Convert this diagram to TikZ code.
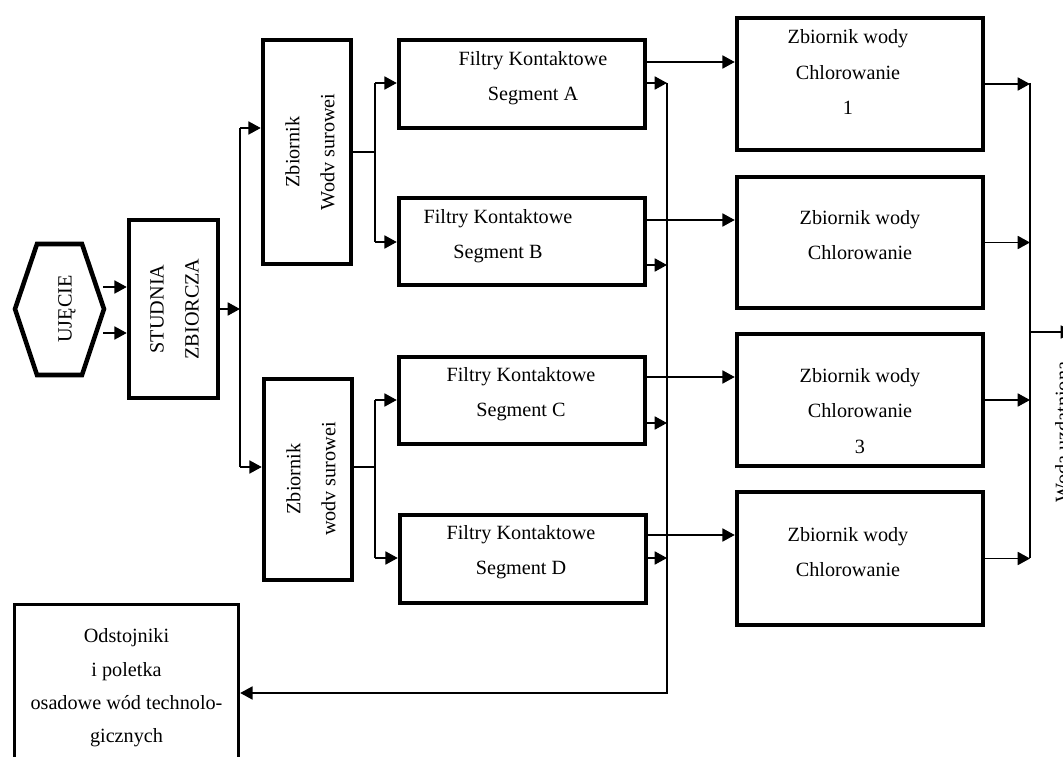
\documentclass[tikz,border=0pt]{standalone}
\usepackage{fontspec}
\setmainfont{Liberation Serif}
\usetikzlibrary{arrows.meta,calc}

\begin{document}
\begin{tikzpicture}[x=0.02cm,y=-0.02cm,
    box/.style={draw, line width=2.6pt, inner sep=0pt},
    txt/.style={font=\fontsize{11.5}{20}\selectfont, align=center, inner sep=0pt},
    lin/.style={line width=0.7pt},
    arr/.style={line width=0.7pt, -{Triangle[length=7pt,width=7.5pt]}}]
    \useasboundingbox (0,0) rectangle (1063,757);
    \clip (0,0) rectangle (1063,757);

    % Ujecie i studnia
    \draw[line width=2.6pt] (15,309) -- (37,244) -- (82,244) -- (104,309) -- (82,375) -- (37,375) -- cycle;
    \node[txt, rotate=90] (uj) at (67,309) {UJĘCIE};
    \node[box, minimum width=1.78cm, minimum height=3.56cm] (st) at (173.5,309) {};
    \node[txt, rotate=90] (stt) at (174.5,309) {STUDNIA\\ZBIORCZA};

    % Zbiorniki wody surowej
    \node[box, minimum width=1.76cm, minimum height=4.48cm] (zA) at (307,152) {};
    \node[txt, rotate=90] (zAt) at (310,152) {Zbiornik\\Wodv surowei};
    \node[box, minimum width=1.76cm, minimum height=4.02cm] (zB) at (308,479.5) {};
    \node[txt, rotate=90] (zBt) at (311,479) {Zbiornik\\wodv surowei};

    % Filtry
    \node[box, minimum width=4.92cm, minimum height=1.76cm] (fA) at (522,84) {};
    \node[txt] (fAt) at (533,78.5) {Filtry Kontaktowe\\Segment A};
    \node[box, minimum width=4.92cm, minimum height=1.74cm] (fB) at (522,241.5) {};
    \node[txt] (fBt) at (498,236) {Filtry Kontaktowe\\Segment B};
    \node[box, minimum width=4.92cm, minimum height=1.74cm] (fC) at (522,400.5) {};
    \node[txt] (fCt) at (521,394.5) {Filtry Kontaktowe\\Segment C};
    \node[box, minimum width=4.92cm, minimum height=1.76cm] (fD) at (523,559) {};
    \node[txt] (fDt) at (521,552) {Filtry Kontaktowe\\Segment D};

    % Zbiorniki wody czystej
    \node[box, minimum width=4.92cm, minimum height=2.64cm] (t1) at (860,84) {};
    \node[txt] (t1t) at (848,72) {Zbiornik wody\\Chlorowanie\\1};
    \node[box, minimum width=4.92cm, minimum height=2.62cm] (t2) at (860,242.5) {};
    \node[txt] (t2t) at (860,235) {Zbiornik wody\\Chlorowanie};
    \node[box, minimum width=4.92cm, minimum height=2.64cm] (t3) at (860,400) {};
    \node[txt] (t3t) at (860,411) {Zbiornik wody\\Chlorowanie\\3};
    \node[box, minimum width=4.92cm, minimum height=2.66cm] (t4) at (860,558.5) {};
    \node[txt] (t4t) at (848,552.5) {Zbiornik wody\\Chlorowanie};

    % Odstojniki
    \node[box, line width=2pt, minimum width=4.48cm, minimum height=3.34cm,
          txt, font=\fontsize{11.5}{19}\selectfont] (od) at (126.5,688)
          {Odstojniki\\i poletka\\osadowe wód technolo-\\gicznych};

    \node[txt, rotate=90, anchor=base] (woda) at (1069,432) {Woda uzdatniona};

    % Polaczenia
    \coordinate (u1) at (103,287);
    \coordinate (u2) at (103,333);
    \draw[arr] (u1) -- (u1 -| st.west);
    \draw[arr] (u2) -- (u2 -| st.west);

    \coordinate (j1) at (240,128);
    \coordinate (j2) at (240,467);
    \draw[arr] (st.east) -- (st.east -| j1);
    \draw[lin] (j1) -- (j2);
    \draw[arr] (j1) -- (j1 -| zA.west);
    \draw[arr] (j2) -- (j2 -| zB.west);

    \coordinate (k1) at (375,83);
    \coordinate (k2) at (375,242);
    \coordinate (k3) at (375,400);
    \coordinate (k4) at (375,558);
    \coordinate (kB) at (375,467);
    \draw[lin] (zA.east) -- (zA.east -| k1);
    \draw[lin] (zB.east |- kB) -- (kB);
    \draw[lin] (k1) -- (k2);
    \draw[lin] (k3) -- (k4);
    \draw[arr] (k1) -- (k1 -| fA.west);
    \draw[arr] (k2) -- (k2 -| fB.west);
    \draw[arr] (k3) -- (k3 -| fC.west);
    \draw[arr] (k4) -- (k4 -| fD.west);

    \foreach \f/\t/\y in {fA/t1/62, fB/t2/220, fC/t3/377, fD/t4/535} {
        \coordinate (h) at (0,\y);
        \draw[arr] (\f.east |- h) -- (\t.west |- h);
    }
    \foreach \f/\y in {fA/83, fB/265, fC/423, fD/558} {
        \coordinate (h) at (667,\y);
        \draw[arr] (\f.east |- h) -- (h);
    }
    \coordinate (r1) at (667,83);
    \coordinate (r2) at (667,693);
    \draw[arr] (r1) -- (r2) -- (r2 -| od.east);

    \coordinate (m1) at (1030,83);
    \coordinate (m2) at (1030,558);
    \coordinate (wy) at (1073,332);
    \foreach \t in {t1,t2,t3,t4}
        \draw[arr] (\t.east) -- (\t.east -| m1);
    \draw[lin] (m1) -- (m2);
    \draw[arr] (m1 |- wy) -- (wy);
\end{tikzpicture}
\end{document}
